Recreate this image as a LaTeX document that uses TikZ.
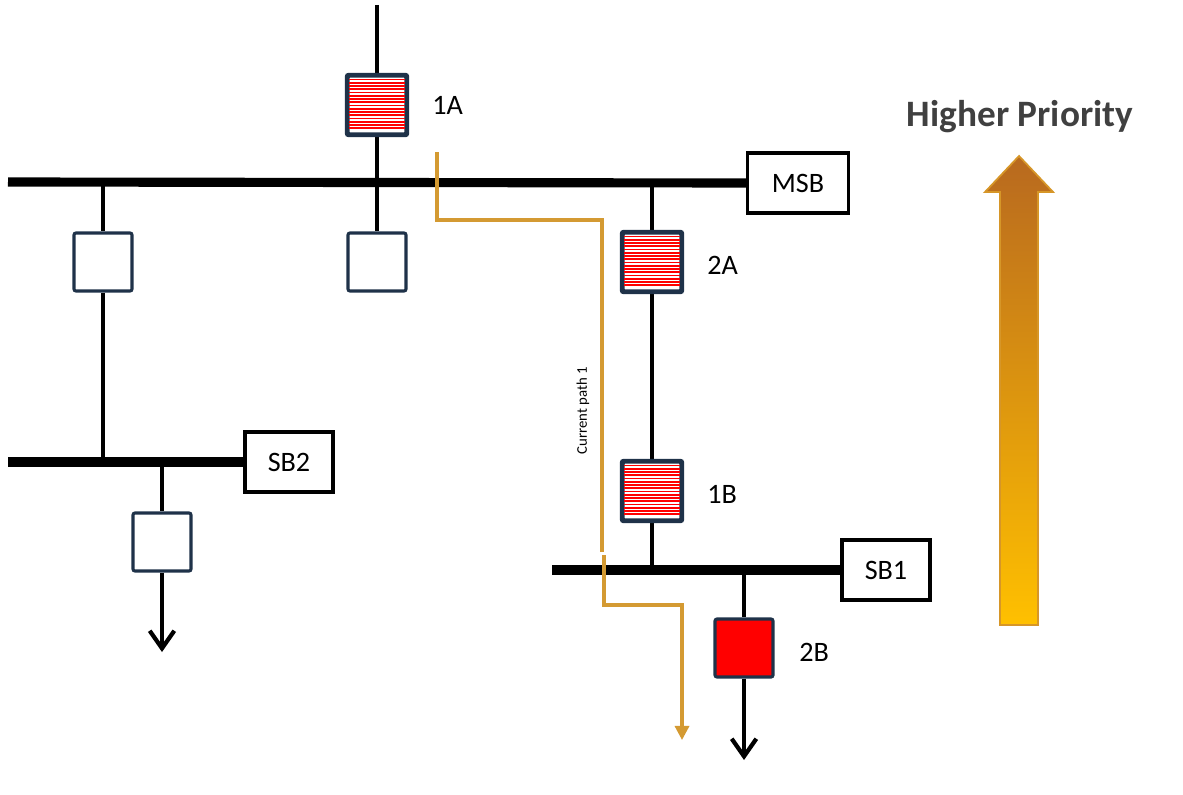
\documentclass[tikz,border=0pt]{standalone}
\usepackage{fontspec}
\setmainfont{Carlito}
\usetikzlibrary{arrows.meta}
\definecolor{navy}{HTML}{1F3249}
\definecolor{path}{HTML}{D49A32}
\tikzset{
 bus/.style={line width=2.6pt},
 wire/.style={line width=1.2pt},
 brk/.style={draw=navy,line width=0.9pt,fill=white,rounded corners=0.6pt,minimum width=0.58cm,minimum height=0.58cm,inner sep=0pt},
 lbl/.style={draw,line width=0.9pt,fill=white,inner sep=0pt,font=\fontsize{8}{9}\selectfont},
 txt/.style={font=\fontsize{8}{9}\selectfont,anchor=west},
 cur/.style={draw=path,line width=0.9pt}
}
\newcommand{\hatchbox}[1]{%
 \foreach \k in {0,...,15}{\draw[red,line width=0.5pt] ([xshift=0.03cm,yshift=-0.05cm-\k*0.0325cm]#1.north west) -- ([xshift=-0.03cm,yshift=-0.05cm-\k*0.0325cm]#1.north east);}
 \draw[navy,line width=0.9pt,rounded corners=0.6pt] (#1.south west) rectangle (#1.north east);}
\begin{document}
\begin{tikzpicture}[x=0.01cm,y=-0.01cm]
\useasboundingbox (0,0) rectangle (1183,794);
% nodes
\node[brk] (b1a) at (377,105) {};
\node[brk] (bl) at (103,262) {};
\node[brk] (bm) at (377,262) {};
\node[brk] (b2a) at (652,262) {};
\node[brk] (b1b) at (652,491) {};
\node[brk] (bs2) at (162,542) {};
\node[brk,fill=red] (b2b) at (744,648) {};
\coordinate (top) at (377,5);
\coordinate (m1) at (103,182); \coordinate (m2) at (377,182); \coordinate (m3) at (652,182);
\coordinate (s2a) at (103,462); \coordinate (s2b) at (162,462);
\coordinate (s1a) at (652,570); \coordinate (s1b) at (744,570);
\coordinate (e2) at (162,652); \coordinate (e1) at (744,760);
% wires
\draw[wire] (top) -- (b1a.north);
\draw[wire] (b1a.south) -- (m2);
\draw[wire] (m2) -- (bm.north);
\draw[wire] (m1) -- (bl.north); \draw[wire] (bl.south) -- (s2a);
\draw[wire] (m3) -- (b2a.north); \draw[wire] (b2a.south) -- (b1b.north); \draw[wire] (b1b.south) -- (s1a);
\draw[wire] (s2b) -- (bs2.north); \draw[wire,-{Straight Barb[length=5pt,width=7pt]}] (bs2.south) -- (e2);
\draw[wire] (s1b) -- (b2b.north); \draw[wire,-{Straight Barb[length=5pt,width=7pt]}] (b2b.south) -- (e1);
% buses
\node[lbl,minimum width=1.01cm,minimum height=0.6cm] (msb) at (798,183) {MSB};
\node[lbl,minimum width=0.88cm,minimum height=0.6cm] (sb2) at (289,462) {SB2};
\node[lbl,minimum width=0.88cm,minimum height=0.6cm] (sb1) at (886,570) {SB1};
\coordinate (msbL) at (8,182); \coordinate (sb2L) at (8,462); \coordinate (sb1L) at (552,570);
\draw[bus] (msbL) -- (msb.west);
\draw[bus] (sb2L) -- (sb2.west);
\draw[bus] (sb1L) -- (sb1.west);
\node[lbl,minimum width=1.01cm,minimum height=0.6cm] at (msb) {MSB};
\node[lbl,minimum width=0.88cm,minimum height=0.6cm] at (sb2) {SB2};
\node[lbl,minimum width=0.88cm,minimum height=0.6cm] at (sb1) {SB1};
% hatches
\hatchbox{b1a}\hatchbox{b2a}\hatchbox{b1b}
% labels
\node[txt] (l1a) at (420,105) {1A};
\node[txt] (l2a) at (695,265) {2A};
\node[txt] (l1b) at (695,494) {1B};
\node[txt] (l2b) at (787,652) {2B};
% current path
\coordinate (c0) at (437,152); \coordinate (c1) at (437,220); \coordinate (c2) at (602,220); \coordinate (c3) at (602,552);
\coordinate (c4) at (604,555); \coordinate (c5) at (604,605); \coordinate (c6) at (682,605); \coordinate (c7) at (682,740);
\draw[cur] (c0) -- (c1) -- (c2) -- (c3);
\draw[cur,-{Triangle[length=4pt,width=4pt]}] (c4) -- (c5) -- (c6) -- (c7);
\node[rotate=90,font=\fontsize{4.2}{5}\selectfont] (cp) at (583,411) {Current path 1};
% priority arrow
\shade[top color={rgb,255:red,184;green,105;blue,31},bottom color={rgb,255:red,255;green,192;blue,0},draw={rgb,255:red,214;green,150;blue,40},line width=0.5pt]
 (1000,625) -- (1000,192) -- (985,192) -- (1019,156) -- (1053,192) -- (1038,192) -- (1038,625) -- cycle;
\node[font=\bfseries\fontsize{10.6}{12}\selectfont,text={rgb,255:red,64;green,64;blue,64}] (hp) at (1020,117) {Higher Priority};
\end{tikzpicture}
\end{document}
